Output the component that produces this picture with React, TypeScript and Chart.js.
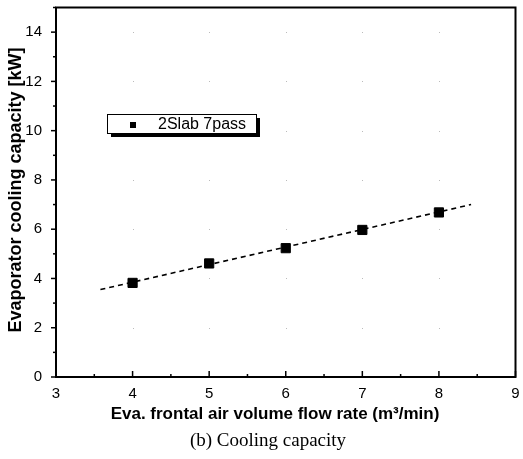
import React, { useEffect, useRef } from "react";
import { Chart, registerables } from "chart.js";

Chart.register(...registerables);

const flowRates = [4, 5, 6, 7, 8];
const capacity = [3.82, 4.61, 5.23, 5.97, 6.68];
const fitX = [3.58, 8.42];
const fitY = [3.55, 7.0];
const seriesLabel = "2Slab 7pass";
const xTitle = "Eva. frontal air volume flow rate (m\u00B3/min)";
const yTitle = "Evaporator cooling capacity [kW]";
const caption = "(b) Cooling capacity";

const SANS = "'Liberation Sans', Arial, sans-serif";
const SERIF = "'Liberation Serif', 'Times New Roman', serif";

const framePlugin = {
  id: "frame",
  beforeDatasetsDraw(chart: any) {
    const { ctx, scales } = chart;
    const xs = scales.x;
    const ys = scales.y;
    ctx.save();
    ctx.fillStyle = "#bbbbbb";
    for (let xv = 4; xv <= 8; xv++) {
      for (let yv = 2; yv <= 14; yv += 2) {
        ctx.fillRect(Math.round(xs.getPixelForValue(xv)), Math.round(ys.getPixelForValue(yv)), 1, 1);
      }
    }
    ctx.restore();
  },
  afterDraw(chart: any) {
    const { ctx, chartArea: a, scales } = chart;
    const xs = scales.x;
    const ys = scales.y;
    ctx.save();
    ctx.strokeStyle = "#000";
    ctx.lineWidth = 2;
    ctx.strokeRect(a.left, a.top, a.right - a.left, a.bottom - a.top);
    ctx.lineWidth = 1.5;
    for (let v = 3; v <= 9.001; v += 0.5) {
      const px = xs.getPixelForValue(v);
      const len = Number.isInteger(v) ? 6 : 3;
      ctx.beginPath();
      ctx.moveTo(px, a.bottom);
      ctx.lineTo(px, a.bottom - len);
      ctx.stroke();
    }
    for (let v = 0; v <= 15; v += 1) {
      const py = ys.getPixelForValue(v);
      const len = v % 2 === 0 ? 5 : 3;
      ctx.beginPath();
      ctx.moveTo(a.left, py);
      ctx.lineTo(a.left - len, py);
      ctx.stroke();
    }
    const bx = 107, by = 114, bw = 149, bh = 19;
    ctx.fillStyle = "#000";
    ctx.fillRect(bx + 4, by + 4, bw, bh);
    ctx.fillStyle = "#fff";
    ctx.fillRect(bx, by, bw, bh);
    ctx.lineWidth = 1;
    ctx.strokeStyle = "#000";
    ctx.strokeRect(bx + 0.5, by + 0.5, bw, bh);
    ctx.fillStyle = "#000";
    ctx.fillRect(bx + 23, by + 8, 6, 6);
    ctx.font = "16px " + SANS;
    ctx.textBaseline = "middle";
    ctx.textAlign = "left";
    ctx.fillText(seriesLabel, bx + 51, by + 11);
    ctx.textAlign = "center";
    ctx.textBaseline = "alphabetic";
    ctx.font = "bold 17px " + SANS;
    ctx.fillText(xTitle, 275, 419);
    ctx.save();
    ctx.translate(21, 190);
    ctx.rotate(-Math.PI / 2);
    ctx.font = "bold 18px " + SANS;
    ctx.fillText(yTitle, 0, 0);
    ctx.restore();
    ctx.font = "19px " + SERIF;
    ctx.fillText(caption, 268, 446);
    ctx.restore();
  },
};

const zeroPad = (s: any) => {
  s.paddingTop = 0;
  s.paddingBottom = 0;
  s.paddingLeft = 0;
  s.paddingRight = 0;
};

export default function App() {
  const ref = useRef<HTMLCanvasElement>(null);
  useEffect(() => {
    document.body.style.margin = "0";
    const chart = new Chart(ref.current!, {
      type: "scatter",
      data: {
        datasets: [
          {
            label: seriesLabel,
            data: flowRates.map((x, i) => ({ x, y: capacity[i] })),
            pointStyle: "rect",
            pointRadius: 6.5,
            backgroundColor: "#000",
            borderColor: "#000",
            showLine: false,
            order: 0,
          },
          {
            label: "fit",
            data: fitX.map((x, i) => ({ x, y: fitY[i] })),
            showLine: true,
            pointRadius: 0,
            borderColor: "#000",
            borderWidth: 1.6,
            borderDash: [5, 4],
            order: 1,
          },
        ],
      },
      options: {
        animation: false,
        responsive: false,
        layout: { padding: { top: 7, right: 6, left: 0, bottom: 0 } },
        plugins: { legend: { display: false }, tooltip: { enabled: false } },
        scales: {
          x: {
            type: "linear",
            min: 3,
            max: 9,
            grid: { display: false },
            border: { display: false },
            ticks: { stepSize: 1, padding: 0, color: "#000", font: { family: SANS, size: 15 } },
            afterFit: (s: any) => { s.height = 82; zeroPad(s); },
          },
          y: {
            type: "linear",
            min: 0,
            max: 15,
            grid: { display: false },
            border: { display: false },
            afterBuildTicks: (s: any) => { s.ticks = s.ticks.filter((t: any) => t.value % 2 === 0); },
            ticks: { stepSize: 2, padding: 6, color: "#000", font: { family: SANS, size: 15 } },
            afterFit: (s: any) => { s.width = 56; zeroPad(s); },
          },
        },
      },
      plugins: [framePlugin],
    });
    return () => chart.destroy();
  }, []);
  return (
    <div style={{ position: "absolute", left: 0, top: 0, width: 523, height: 459, background: "#fff" }}>
      <canvas ref={ref} width={523} height={459} style={{ width: 523, height: 459 }} />
    </div>
  );
}
